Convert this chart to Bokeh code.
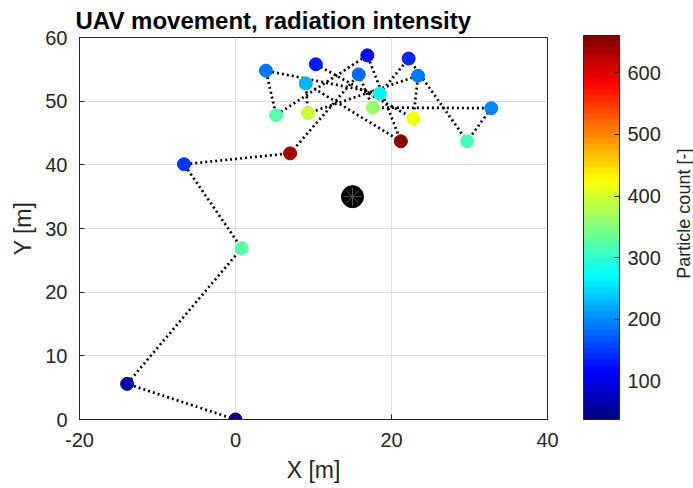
import math
from bokeh.plotting import figure
from bokeh.layouts import row
from bokeh.models import (ColumnDataSource, LinearColorMapper, ColorBar, FixedTicker,
                          Label, Range1d)
from bokeh.embed import file_html
from bokeh.resources import INLINE

# UAV path (in flight order)
uav_x = [0.0, -13.9, 0.8, -6.6, 7.0, 15.8, 17.6, 32.8, 29.7, 22.2,
         18.5, 3.9, 5.2, 16.9, 21.2, 9.0, 9.3, 23.4, 22.8, 10.3]
uav_y = [0.0, 5.6, 26.9, 40.1, 41.8, 54.2, 49.0, 48.9, 43.7, 56.7,
         51.2, 54.8, 47.8, 57.2, 43.7, 52.8, 48.1, 54.0, 47.3, 55.8]
particle_count = [44, 58, 322, 145, 640, 175, 368, 201, 318, 140,
                  268, 184, 325, 125, 655, 228, 396, 193, 425, 135]

# radiation source
source_x = [15.0]
source_y = [35.0]

x_ticks = [-20, 0, 20, 40]
y_ticks = [0, 10, 20, 30, 40, 50, 60]
cbar_ticks = [100, 200, 300, 400, 500, 600]
cbar_low, cbar_high = 38, 660

FONT = "Liberation Sans"
DARK = "#262626"


def jet(n):
    cols = []
    for i in range(n):
        t = (i + 0.5) / n
        r = min(max(1.5 - abs(4 * t - 3), 0), 1)
        g = min(max(1.5 - abs(4 * t - 2), 0), 1)
        b = min(max(1.5 - abs(4 * t - 1), 0), 1)
        cols.append("#%02x%02x%02x" % (round(r * 255), round(g * 255), round(b * 255)))
    return cols


mapper = LinearColorMapper(palette=jet(64), low=cbar_low, high=cbar_high)

p = figure(width=664, height=488, x_range=Range1d(-20, 40), y_range=Range1d(0, 60),
           output_backend="svg", toolbar_location=None,
           min_border_left=79, min_border_right=117, min_border_top=36, min_border_bottom=69)

p.title.text = "UAV movement, radiation intensity"
p.title.text_font = FONT
p.title.text_font_size = "24px"
p.title.text_font_style = "bold"
p.title.text_color = "black"
p.title.align = "left"
p.title.offset = -4
p.title.standoff = 8

p.outline_line_color = DARK
p.outline_line_width = 1
p.background_fill_color = "white"
p.border_fill_color = "white"

for ax in (p.xaxis, p.yaxis):
    ax.axis_line_color = DARK
    ax.major_tick_line_color = DARK
    ax.major_tick_in = 5
    ax.major_tick_out = 0
    ax.minor_tick_line_color = None
    ax.major_label_text_font = FONT
    ax.major_label_text_font_size = "20px"
    ax.major_label_text_color = DARK
    ax.axis_label_text_font = FONT
    ax.axis_label_text_font_size = "23px"
    ax.axis_label_text_font_style = "normal"
    ax.axis_label_text_color = DARK

p.xaxis.ticker = FixedTicker(ticks=x_ticks)
p.yaxis.ticker = FixedTicker(ticks=y_ticks)
p.xaxis.major_label_overrides = {t: str(t) for t in x_ticks}
p.xgrid.ticker = FixedTicker(ticks=x_ticks)
p.ygrid.ticker = FixedTicker(ticks=y_ticks)
p.xaxis.axis_label = "X [m]"
p.yaxis.axis_label = "Y [m]"
p.xaxis.major_label_standoff = 13
p.yaxis.major_label_standoff = 12
p.xaxis.axis_label_standoff = 7
p.yaxis.axis_label_standoff = 6
for g in (p.xgrid, p.ygrid):
    g.grid_line_color = "#dedede"
    g.grid_line_width = 1

src = ColumnDataSource(dict(x=uav_x, y=uav_y, c=particle_count))

p.line("x", "y", source=src, line_color="black", line_width=2.7, line_dash="2 3")
p.scatter("x", "y", source=src, size=13,
          fill_color={"field": "c", "transform": mapper},
          line_color={"field": "c", "transform": mapper})

p.scatter(source_x, source_y, size=22, fill_color="black", line_color="black")
p.scatter(source_x, source_y, size=18, marker="asterisk", line_color="#555555", line_width=1)

cb = ColorBar(color_mapper=mapper, width=36, height=384, padding=0, margin=0,
              location=(36, 0),
              ticker=FixedTicker(ticks=cbar_ticks),
              major_label_text_font=FONT, major_label_text_font_size="20px",
              major_label_text_color=DARK, label_standoff=8,
              bar_line_color=DARK, bar_line_width=1,
              major_tick_line_color=DARK, major_tick_in=5, major_tick_out=0,
              minor_tick_line_color=None, background_fill_color=None)
p.add_layout(cb, "right")

# narrow strip holding the rotated colour-bar label
q = figure(width=29, height=488, x_range=Range1d(0, 29), y_range=Range1d(488, 0),
           output_backend="svg", toolbar_location=None,
           x_axis_type=None, y_axis_type=None, min_border=0)
q.outline_line_color = None
q.xgrid.visible = False
q.ygrid.visible = False
q.add_layout(Label(x=19, y=225, text="Particle count [-]", angle=math.pi / 2,
                   text_align="center", text_baseline="middle",
                   text_font=FONT, text_font_size="18px", text_color=DARK))

layout = row(p, q, spacing=0)
open("out.html", "w").write(file_html(layout, INLINE))
